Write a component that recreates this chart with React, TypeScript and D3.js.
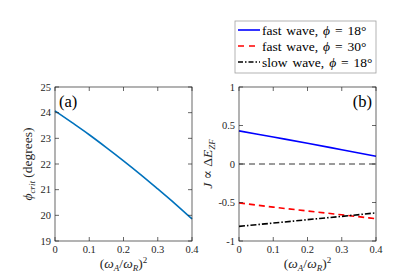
import React from "react";
import * as d3 from "d3";

const xsA = [0, 0.05, 0.1, 0.15, 0.2, 0.25, 0.3, 0.35, 0.4];
const phiCrit = [24.07, 23.61, 23.14, 22.64, 22.125, 21.59, 21.03, 20.46, 19.86];
const xsB = [0, 0.1, 0.2, 0.3, 0.4];
const fast18 = [0.43, 0.35, 0.27, 0.185, 0.1];
const fast30 = [-0.505, -0.56, -0.61, -0.66, -0.71];
const slow18 = [-0.81, -0.767, -0.723, -0.68, -0.635];
const zeroLine = [0, 0, 0, 0, 0];
const xTicks = [0, 0.1, 0.2, 0.3, 0.4];
const yTicksA = [19, 20, 21, 22, 23, 24, 25];
const yTicksB = [-1, -0.5, 0, 0.5, 1];

const FONT = "'Liberation Serif', 'DejaVu Serif', 'Times New Roman', serif";
const AX = "#262626";
const TOP = 87;
const BOT = 241;

function Panel({ left, right, yDomain, yTicks, children, yLabel, tag, tagRight }: any) {
  const x = d3.scaleLinear().domain([0, 0.4]).range([left, right]);
  const y = d3.scaleLinear().domain(yDomain).range([BOT, TOP]);
  const tl = 4;
  return (
    <g>
      {children(x, y)}
      <rect x={left} y={TOP} width={right - left} height={BOT - TOP} fill="none" stroke={AX} strokeWidth={0.7} />
      {xTicks.map((t) => (
        <g key={"x" + t}>
          <line x1={x(t)} x2={x(t)} y1={BOT} y2={BOT - tl} stroke={AX} strokeWidth={0.7} />
          <line x1={x(t)} x2={x(t)} y1={TOP} y2={TOP + tl} stroke={AX} strokeWidth={0.7} />
          <text x={x(t)} y={BOT + 12} fontSize={10.5} textAnchor="middle" fill={AX} style={{ fontFamily: FONT }}>
            {String(t)}
          </text>
        </g>
      ))}
      {yTicks.map((t: number) => (
        <g key={"y" + t}>
          <line x1={left} x2={left + tl} y1={y(t)} y2={y(t)} stroke={AX} strokeWidth={0.7} />
          <line x1={right} x2={right - tl} y1={y(t)} y2={y(t)} stroke={AX} strokeWidth={0.7} />
          <text x={left - 4} y={y(t) + 3.5} fontSize={10.5} textAnchor="end" fill={AX} style={{ fontFamily: FONT }}>
            {String(t)}
          </text>
        </g>
      ))}
      <text x={(left + right) / 2} y={268} fontSize={13.5} textAnchor="middle" fill={AX} style={{ fontFamily: FONT }}>
        (<tspan fontStyle="italic">ω</tspan>
        <tspan fontSize={9} fontStyle="italic" dy={3}>A</tspan>
        <tspan dy={-3}>/</tspan>
        <tspan fontStyle="italic">ω</tspan>
        <tspan fontSize={9} fontStyle="italic" dy={3}>R</tspan>
        <tspan dy={-3}>)</tspan>
        <tspan fontSize={9} dy={-5}>2</tspan>
      </text>
      {yLabel}
      <text x={tagRight ? right - 4 : left + 4} y={107} fontSize={16.5} textAnchor={tagRight ? "end" : "start"} fill="#000" style={{ fontFamily: FONT }}>
        {tag}
      </text>
    </g>
  );
}

export default function App() {
  const mk = (x: any, y: any, xv: number[], vals: number[]) =>
    d3.line<number>().x((_, i) => x(xv[i])).y((v) => y(v)).curve(d3.curveMonotoneX)(vals) as string;
  return (
    <svg width={415} height={275} style={{ position: "absolute", left: 0, top: 0, background: "#fff" }}>
      <rect width={415} height={275} fill="#fff" />
      <Panel
        left={55}
        right={192}
        yDomain={[19, 25]}
        yTicks={yTicksA}
        tag="(a)"
        tagRight={false}
        yLabel={
          <text transform="translate(32,164) rotate(-90)" fontSize={13.5} textAnchor="middle" fill={AX} style={{ fontFamily: FONT }}>
            <tspan fontStyle="italic">ϕ</tspan>
            <tspan fontSize={9} fontStyle="italic" dy={3}>crit</tspan>
            <tspan dy={-3}> (degrees)</tspan>
          </text>
        }
      >
        {(x: any, y: any) => <path d={mk(x, y, xsA, phiCrit)} fill="none" stroke="#0072BD" strokeWidth={1.6} />}
      </Panel>
      <Panel
        left={239}
        right={376}
        yDomain={[-1, 1]}
        yTicks={yTicksB}
        tag="(b)"
        tagRight={true}
        yLabel={
          <text transform="translate(212,164) rotate(-90)" fontSize={13.5} textAnchor="middle" fill={AX} style={{ fontFamily: FONT }}>
            <tspan fontStyle="italic">J</tspan>
            <tspan> ∝ Δ</tspan>
            <tspan fontStyle="italic">E</tspan>
            <tspan fontSize={9} fontStyle="italic" dy={3}>ZF</tspan>
          </text>
        }
      >
        {(x: any, y: any) => (
          <g>
            <path d={mk(x, y, xsB, zeroLine)} fill="none" stroke="#000" strokeWidth={0.8} strokeDasharray="6,4" />
            <path d={mk(x, y, xsB, fast18)} fill="none" stroke="#0000ff" strokeWidth={1.6} />
            <path d={mk(x, y, xsB, fast30)} fill="none" stroke="#ff0000" strokeWidth={1.6} strokeDasharray="6,4" />
            <path d={mk(x, y, xsB, slow18)} fill="none" stroke="#000" strokeWidth={1.6} strokeDasharray="6,2,1.5,2" />
          </g>
        )}
      </Panel>
      <g>
        <rect x={235} y={21} width={141} height={52} fill="#fff" stroke="#a0a0a0" strokeWidth={0.8} />
        {[
          { c: "#0000ff", d: "", t: "fast wave, ", v: "18", yy: 30 },
          { c: "#ff0000", d: "6,5", t: "fast wave, ", v: "30", yy: 46 },
          { c: "#000", d: "5,2,1.5,2", t: "slow wave, ", v: "18", yy: 62 },
        ].map((r, i) => (
          <g key={i}>
            <line x1={238} x2={260} y1={r.yy} y2={r.yy} stroke={r.c} strokeWidth={1.6} strokeDasharray={r.d || undefined} />
            <text x={262} y={r.yy + 4.5} fontSize={13.5} fill="#000" style={{ fontFamily: FONT, wordSpacing: "1.5px" }}>
              {r.t}
              <tspan fontStyle="italic">ϕ</tspan> = {r.v}°
            </text>
          </g>
        ))}
      </g>
    </svg>
  );
}
